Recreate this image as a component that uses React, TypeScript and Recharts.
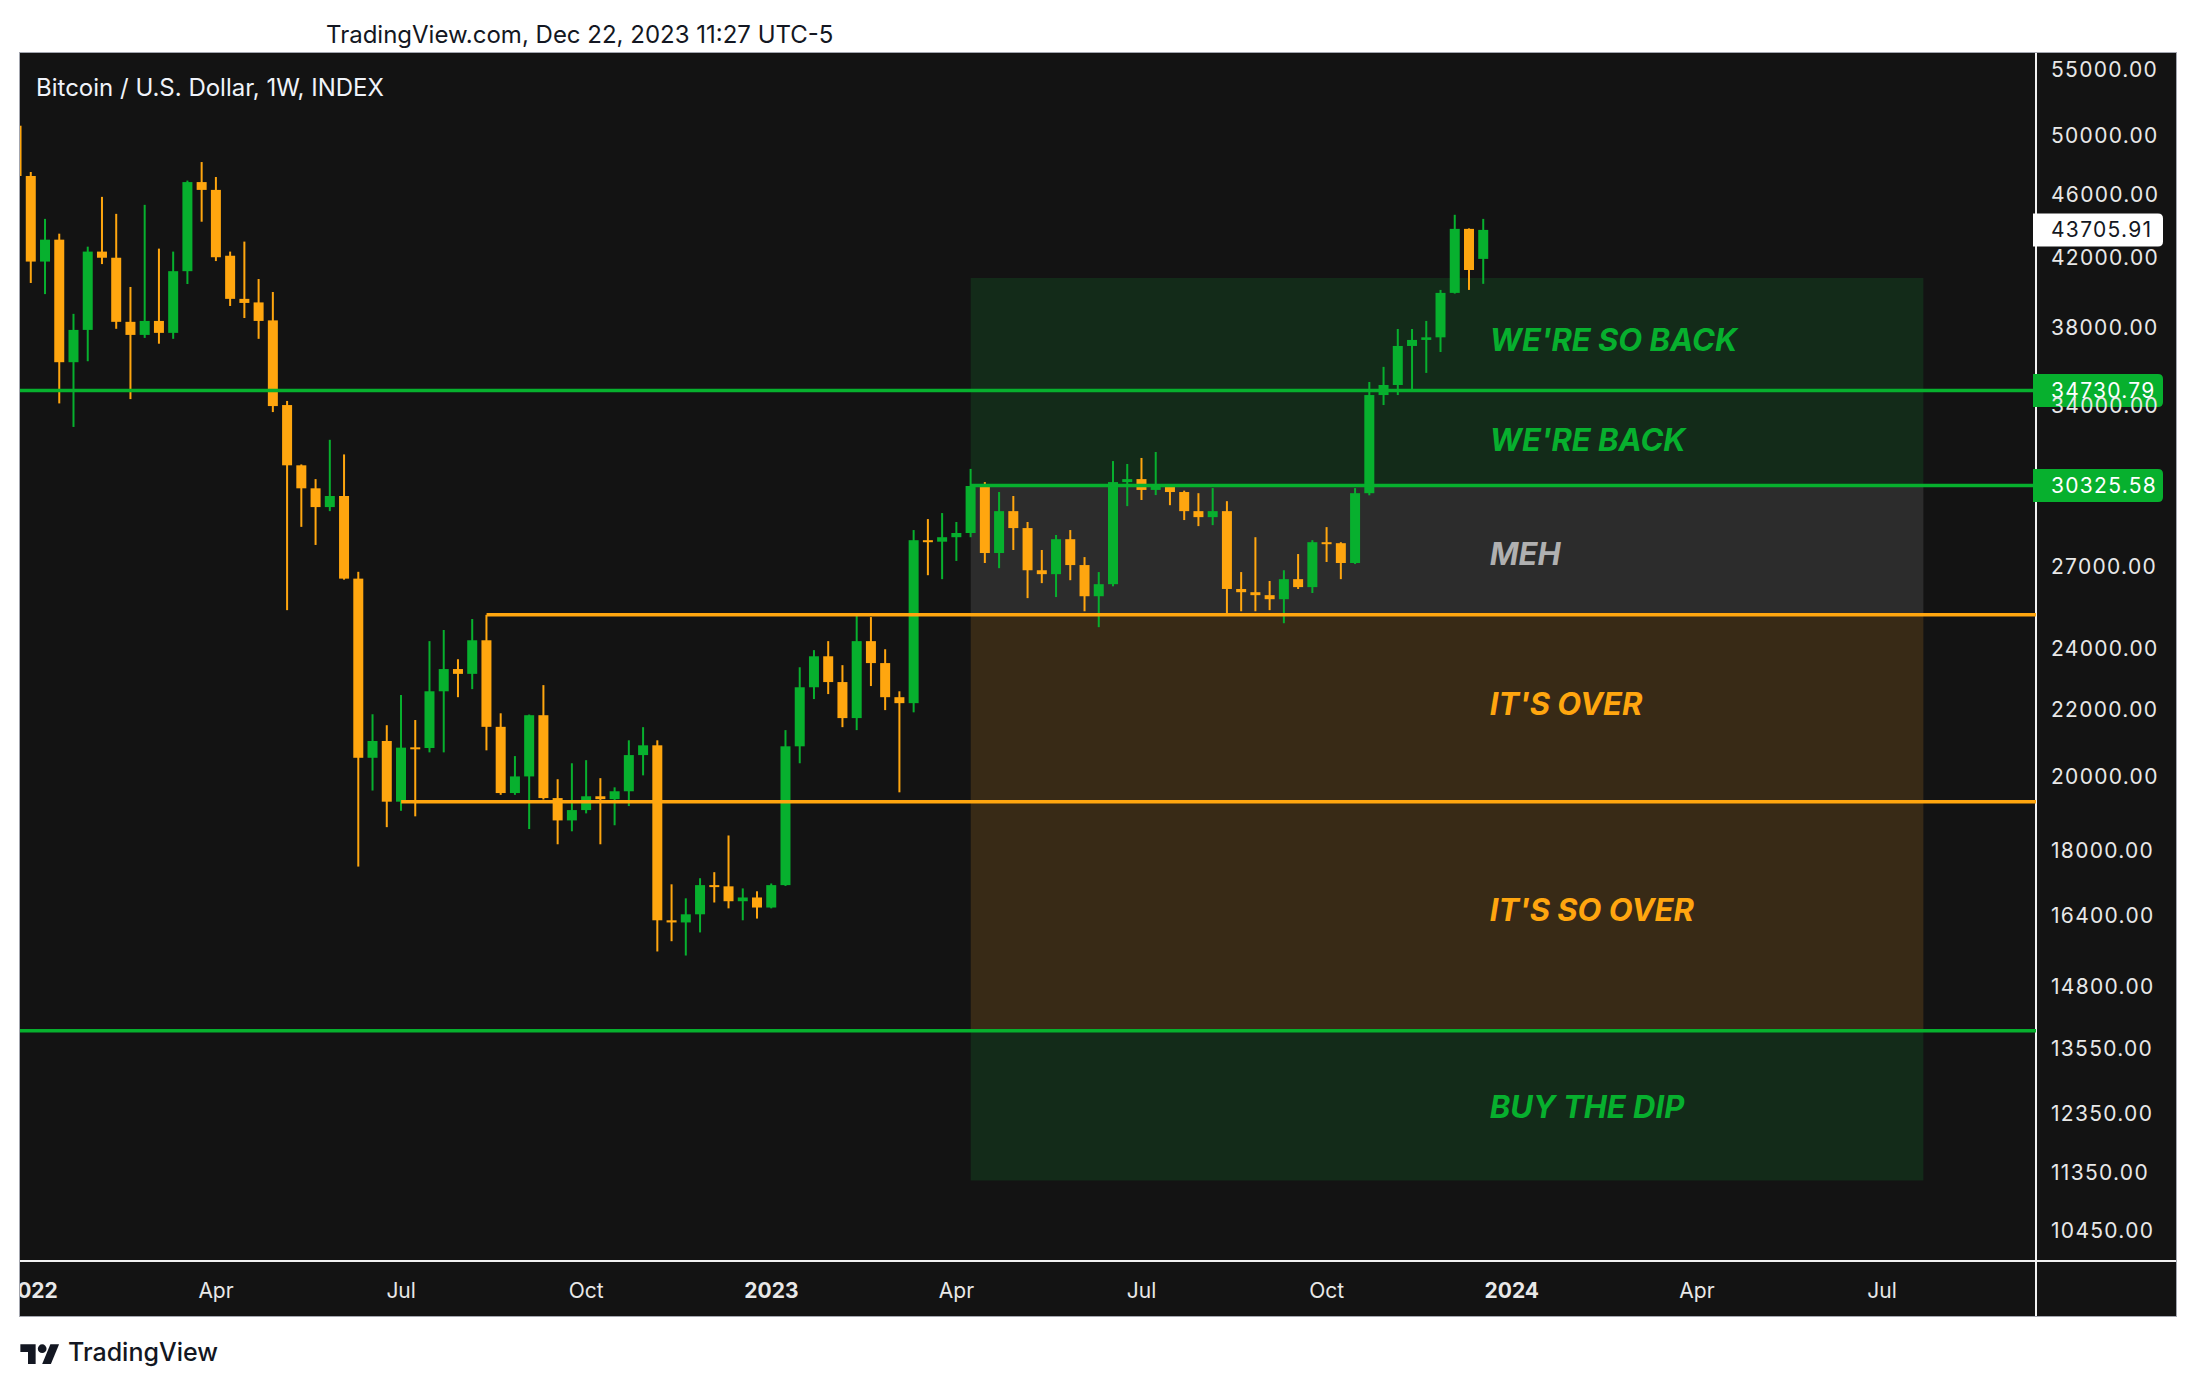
import React from 'react';
import { ComposedChart, Bar, XAxis, YAxis, ReferenceArea, ReferenceLine } from 'recharts';

// ---------------- data ----------------
const weekStarts = [
  '2021-12-27', '2022-01-03', '2022-01-10', '2022-01-17', '2022-01-24', '2022-01-31', '2022-02-07', '2022-02-14',
  '2022-02-21', '2022-02-28', '2022-03-07', '2022-03-14', '2022-03-21', '2022-03-28', '2022-04-04', '2022-04-11',
  '2022-04-18', '2022-04-25', '2022-05-02', '2022-05-09', '2022-05-16', '2022-05-23', '2022-05-30', '2022-06-06',
  '2022-06-13', '2022-06-20', '2022-06-27', '2022-07-04', '2022-07-11', '2022-07-18', '2022-07-25', '2022-08-01',
  '2022-08-08', '2022-08-15', '2022-08-22', '2022-08-29', '2022-09-05', '2022-09-12', '2022-09-19', '2022-09-26',
  '2022-10-03', '2022-10-10', '2022-10-17', '2022-10-24', '2022-10-31', '2022-11-07', '2022-11-14', '2022-11-21',
  '2022-11-28', '2022-12-05', '2022-12-12', '2022-12-19', '2022-12-26', '2023-01-02', '2023-01-09', '2023-01-16',
  '2023-01-23', '2023-01-30', '2023-02-06', '2023-02-13', '2023-02-20', '2023-02-27', '2023-03-06', '2023-03-13',
  '2023-03-20', '2023-03-27', '2023-04-03', '2023-04-10', '2023-04-17', '2023-04-24', '2023-05-01', '2023-05-08',
  '2023-05-15', '2023-05-22', '2023-05-29', '2023-06-05', '2023-06-12', '2023-06-19', '2023-06-26', '2023-07-03',
  '2023-07-10', '2023-07-17', '2023-07-24', '2023-07-31', '2023-08-07', '2023-08-14', '2023-08-21', '2023-08-28',
  '2023-09-04', '2023-09-11', '2023-09-18', '2023-09-25', '2023-10-02', '2023-10-09', '2023-10-16', '2023-10-23',
  '2023-10-30', '2023-11-06', '2023-11-13', '2023-11-20', '2023-11-27', '2023-12-04', '2023-12-11', '2023-12-18',
];

const openValues = [
  50730, 47210, 41770, 43100, 36170, 37880, 42370, 42000,
  38320, 37610, 38370, 37720, 41200, 46800, 46280, 42120,
  39600, 39400, 38400, 34020, 31210, 30200, 29400, 29870,
  26540, 20540, 21040, 19290, 20850, 20830, 22590, 23320,
  23160, 24300, 21470, 19530, 20000, 21830, 19390, 18780,
  19060, 19440, 19360, 19580, 20620, 20910, 16280, 16230,
  16420, 17120, 17090, 16730, 16820, 16580, 17120, 20880,
  22720, 23750, 22890, 21740, 24270, 23520, 22400, 22210,
  28040, 27980, 28160, 28330, 30300, 27530, 29230, 28530,
  26860, 26710, 28080, 27060, 25880, 26330, 30470, 30600,
  30130, 30290, 30040, 29230, 28980, 29230, 26150, 26030,
  25920, 25770, 26520, 26220, 27960, 27920, 27140, 29990,
  34510, 35010, 37020, 37340, 37480, 39940, 43770, 41930,
];

const highValues = [
  51900, 47480, 44400, 43470, 38760, 42670, 45820, 44720,
  40280, 45300, 42550, 42370, 46900, 48160, 47140, 42370,
  42980, 40740, 39990, 34220, 31250, 30600, 32370, 31700,
  26800, 21860, 21520, 22470, 21680, 24270, 24660, 23650,
  25050, 25200, 21890, 20590, 21850, 22790, 19920, 20380,
  20470, 19950, 19690, 21060, 21460, 21060, 17140, 16800,
  17290, 17440, 18380, 17040, 16970, 17160, 21370, 23380,
  23960, 24270, 23450, 25260, 25120, 23990, 22590, 28450,
  28900, 29150, 28780, 31050, 30470, 30040, 29870, 28780,
  27650, 28250, 28450, 27370, 26790, 31400, 31270, 31540,
  31810, 30380, 30100, 29990, 30210, 29650, 26790, 28160,
  26450, 26860, 27490, 28040, 28570, 27960, 30210, 35160,
  35930, 37930, 37930, 38370, 40110, 44660, 43800, 44400,
];

const lowValues = [
  45700, 40510, 39870, 34100, 32970, 36220, 41620, 37940,
  34310, 37450, 37140, 37400, 40450, 44220, 41800, 39200,
  38530, 37400, 33680, 25370, 28580, 27850, 29230, 26500,
  17580, 19600, 18600, 19040, 18890, 20700, 20700, 22400,
  22660, 20760, 19480, 19480, 18550, 19350, 18150, 18490,
  18970, 18150, 18650, 19170, 20030, 15570, 15800, 15480,
  16000, 16700, 16560, 16280, 16320, 16560, 17100, 20380,
  22340, 22500, 21460, 21370, 22760, 21990, 19550, 21920,
  26670, 26520, 27220, 28160, 27140, 26940, 27650, 25810,
  26370, 25850, 26480, 25330, 24760, 26250, 29440, 29700,
  29910, 29480, 28860, 28610, 28650, 25200, 25330, 25330,
  25370, 24900, 26150, 26000, 27180, 26520, 27100, 29900,
  34020, 34510, 34760, 35620, 36700, 39900, 40110, 40460,
];

const closeValues = [
  47210, 41770, 43100, 36170, 37880, 42370, 42000, 38320,
  37610, 38370, 37720, 41200, 46800, 46280, 42030, 39600,
  39370, 38370, 33970, 31210, 30200, 29400, 29870, 26540,
  20540, 21040, 19290, 20840, 20830, 22590, 23320, 23160,
  24300, 21470, 19530, 20000, 21830, 19390, 18780, 19060,
  19440, 19360, 19580, 20620, 20910, 16280, 16230, 16420,
  17120, 17090, 16730, 16820, 16580, 17120, 20880, 22720,
  23750, 22890, 21740, 24270, 23520, 22400, 22210, 28040,
  27980, 28160, 28330, 30300, 27530, 29230, 28530, 26860,
  26710, 28080, 27060, 25880, 26330, 30470, 30600, 30130,
  30290, 30040, 29230, 28980, 29230, 26150, 26030, 25920,
  25770, 26520, 26220, 27960, 27920, 27140, 29990, 34510,
  35010, 37020, 37340, 37480, 39940, 43770, 41270, 43705.91,
];

const timeTickDates = ['2022-01-03', '2022-04-04', '2022-07-04', '2022-10-03', '2023-01-02', '2023-04-03', '2023-07-03', '2023-10-02', '2024-01-01', '2024-04-01', '2024-07-01'];
const timeTickLabels = ['2022', 'Apr', 'Jul', 'Oct', '2023', 'Apr', 'Jul', 'Oct', '2024', 'Apr', 'Jul'];

const priceTicks = [55000, 50000, 46000, 42000, 38000, 34000, 27000, 24000, 22000, 20000, 18000, 16400, 14800, 13550, 12350, 11350, 10450];

// horizontal levels
const levelSoBack = 34730.79;
const levelBack = 30325.58;
const levelMeh = 25200;
const levelOver = 19290;
const levelDip = 13900;
const zoneTop = 40800;
const zoneBottom = 11220;
const lastPrice = 43705.91;

const levelMehStart = '2022-08-15';
const levelOverStart = '2022-07-04';
const zoneStart = '2023-04-10';
const zoneEndWeek = 132.9;

const zoneLabels = ["WE'RE SO BACK", "WE'RE BACK", 'MEH', "IT'S OVER", "IT'S SO OVER", 'BUY THE DIP'];

// ---------------- helpers ----------------
const GREEN = '#07b02e';
const ORANGE = '#ffa60f';
const AXIS_TEXT = '#e8e8e8';
const PLOT_BG = '#131313';
const ZONE_GREEN = '#132b19';
const ZONE_GRAY = '#2c2c2c';
const ZONE_BROWN = '#382a16';
const FONT = 'Inter, "Noto Sans", "DejaVu Sans", sans-serif';

const WEEK_MS = 7 * 24 * 3600 * 1000;
const toWeek = (d: string) => Math.round((Date.parse(d + 'T00:00:00Z') - Date.parse('2022-01-03T00:00:00Z')) / WEEK_MS);

const candles = weekStarts.map((d, i) => ({
  week: toWeek(d),
  open: openValues[i],
  high: highValues[i],
  low: lowValues[i],
  close: closeValues[i],
  range: [lowValues[i], highValues[i]],
}));

const timeTickWeeks = timeTickDates.map(toWeek);
const X_DOMAIN: [number, number] = [-0.765, 140.81];
const Y_DOMAIN: [number, number] = [10000, 56290];

const Candle = (props: any) => {
  const { x, y, width, height, payload } = props;
  if (x == null || y == null || !payload) return null;
  const { open, close, high, low } = payload;
  const lh = Math.log(high);
  const ll = Math.log(low);
  const toY = (v: number) => (lh === ll ? y : y + ((lh - Math.log(v)) / (lh - ll)) * height);
  const up = close >= open;
  const color = up ? GREEN : ORANGE;
  const cx = x + width / 2;
  const top = toY(Math.max(open, close));
  const bot = toY(Math.min(open, close));
  return (
    <g>
      <rect x={cx - 1} y={y} width={2} height={Math.max(height, 1)} fill={color} />
      <rect x={x} y={top} width={width} height={Math.max(bot - top, 2)} fill={color} />
    </g>
  );
};

const TimeTick = (props: any) => {
  const { x, y, payload } = props;
  const idx = timeTickWeeks.indexOf(payload.value);
  const label = idx >= 0 ? timeTickLabels[idx] : '';
  const isYear = /^\d{4}$/.test(label);
  return (
    <text x={x} y={y + 29} textAnchor="middle" dominantBaseline="central" fill={AXIS_TEXT} fontSize={21} fontWeight={isYear ? 700 : 400} fontFamily={FONT}>
      {label}
    </text>
  );
};

const PriceTick = (props: any) => {
  const { x, y, payload } = props;
  return (
    <text x={x + 15} y={y} dominantBaseline="central" fill={AXIS_TEXT} fontSize={21} fontFamily={FONT} letterSpacing={1.3}>
      {Number(payload.value).toFixed(2)}
    </text>
  );
};

const priceTag = (value: number, bg: string, fg: string) => (props: any) => {
  const vb = props.viewBox || {};
  const xr = (vb.x || 0) + (vb.width || 0);
  const yc = vb.y || 0;
  const w = 130;
  const h = 33;
  const r = 5;
  const x0 = xr - 3;
  const y0 = yc - h / 2;
  const d = `M${x0},${y0} H${x0 + w - r} Q${x0 + w},${y0} ${x0 + w},${y0 + r} V${y0 + h - r} Q${x0 + w},${y0 + h} ${x0 + w - r},${y0 + h} H${x0} Z`;
  return (
    <g>
      <path d={d} fill={bg} />
      <text x={xr + 15} y={yc} dominantBaseline="central" fill={fg} fontSize={21} fontFamily={FONT} letterSpacing={1.3}>
        {value.toFixed(2)}
      </text>
    </g>
  );
};

const zoneLabel = (text: string, color: string, dy: number) => (props: any) => {
  const vb = props.viewBox || {};
  return (
    <text
      x={(vb.x || 0) + 519}
      y={(vb.y || 0) + (vb.height || 0) / 2 + dy}
      dominantBaseline="central"
      fill={color}
      fontSize={31}
      fontWeight={700}
      fontStyle="italic"
      fontFamily={FONT}
    >
      {text}
    </text>
  );
};

const TvLogo = () => (
  <svg width={40} height={24} viewBox="0 0 36 22" style={{ display: 'block' }}>
    <path d="M14 22H7V11H0V4h14v18z" fill="#131722" />
    <circle cx={20} cy={8} r={4} fill="#131722" />
    <path d="M28 22h-8l7.5-18h8L28 22z" fill="#131722" />
  </svg>
);

export default function App() {
  const zs = toWeek(zoneStart);
  return (
    <div style={{ position: 'absolute', left: 0, top: 0, width: 2196, height: 1388, background: '#ffffff', overflow: 'hidden', fontFamily: FONT }}>
      <div style={{ position: 'absolute', left: 326, top: 21, fontSize: 24, lineHeight: '28px', color: '#131722', whiteSpace: 'nowrap' }}>
        TradingView.com, Dec 22, 2023 11:27 UTC-5
      </div>

      <div style={{ position: 'absolute', left: 19, top: 52, width: 2156, height: 1263, border: '1px solid #a3a6af', background: PLOT_BG, overflow: 'hidden' }}>
        {/* separators (below the svg) */}
        <div style={{ position: 'absolute', left: 2014.75, top: 0, width: 2.5, height: 1263, background: '#f2f2f2' }} />
        <div style={{ position: 'absolute', left: 0, top: 1206.75, width: 2156, height: 2.5, background: '#f2f2f2' }} />

        <ComposedChart width={2156} height={1263} data={candles} margin={{ top: 0, right: 0, bottom: 0, left: 0 }}>
          <XAxis
            dataKey="week"
            type="number"
            domain={X_DOMAIN}
            allowDataOverflow
            ticks={timeTickWeeks}
            interval={0}
            tick={<TimeTick />}
            tickLine={false}
            axisLine={false}
            tickSize={0}
            tickMargin={0}
            height={55}
          />
          <YAxis
            orientation="right"
            type="number"
            scale="log"
            domain={Y_DOMAIN}
            allowDataOverflow
            ticks={priceTicks}
            interval={0}
            tick={<PriceTick />}
            tickLine={false}
            axisLine={false}
            tickSize={0}
            tickMargin={0}
            width={140}
          />

          <ReferenceArea x1={zs} x2={zoneEndWeek} y1={levelSoBack} y2={zoneTop} fill={ZONE_GREEN} fillOpacity={1} stroke="none" label={zoneLabel(zoneLabels[0], GREEN, 5)} />
          <ReferenceArea x1={zs} x2={zoneEndWeek} y1={levelBack} y2={levelSoBack} fill={ZONE_GREEN} fillOpacity={1} stroke="none" label={zoneLabel(zoneLabels[1], GREEN, 1)} />
          <ReferenceArea x1={zs} x2={zoneEndWeek} y1={levelMeh} y2={levelBack} fill={ZONE_GRAY} fillOpacity={1} stroke="none" label={zoneLabel(zoneLabels[2], '#b0b0b0', 3)} />
          <ReferenceArea x1={zs} x2={zoneEndWeek} y1={levelOver} y2={levelMeh} fill={ZONE_BROWN} fillOpacity={1} stroke="none" label={zoneLabel(zoneLabels[3], ORANGE, -5)} />
          <ReferenceArea x1={zs} x2={zoneEndWeek} y1={levelDip} y2={levelOver} fill={ZONE_BROWN} fillOpacity={1} stroke="none" label={zoneLabel(zoneLabels[4], ORANGE, -7)} />
          <ReferenceArea x1={zs} x2={zoneEndWeek} y1={zoneBottom} y2={levelDip} fill={ZONE_GREEN} fillOpacity={1} stroke="none" label={zoneLabel(zoneLabels[5], GREEN, 1)} />

          <Bar dataKey="range" barSize={10} shape={<Candle />} isAnimationActive={false} />

          <ReferenceLine y={levelSoBack} stroke={GREEN} strokeWidth={3.5} label={priceTag(levelSoBack, GREEN, '#ffffff')} />
          <ReferenceLine
            segment={[{ x: zs, y: levelBack }, { x: X_DOMAIN[1], y: levelBack }]}
            stroke={GREEN}
            strokeWidth={3.5}
            label={priceTag(levelBack, GREEN, '#ffffff')}
          />
          <ReferenceLine segment={[{ x: toWeek(levelMehStart), y: levelMeh }, { x: X_DOMAIN[1], y: levelMeh }]} stroke={ORANGE} strokeWidth={3.5} />
          <ReferenceLine segment={[{ x: toWeek(levelOverStart), y: levelOver }, { x: X_DOMAIN[1], y: levelOver }]} stroke={ORANGE} strokeWidth={3.5} />
          <ReferenceLine y={levelDip} stroke={GREEN} strokeWidth={3.5} />
          <ReferenceLine y={lastPrice} stroke="none" strokeOpacity={0} label={priceTag(lastPrice, '#ffffff', '#131722')} />
        </ComposedChart>

        <div style={{ position: 'absolute', left: 16, top: 21, fontSize: 24, lineHeight: '28px', color: '#f0f3fa', whiteSpace: 'nowrap' }}>
          Bitcoin / U.S. Dollar, 1W, INDEX
        </div>
      </div>

      <div style={{ position: 'absolute', left: 20, top: 1339, display: 'flex', alignItems: 'center', gap: 8 }}>
        <TvLogo />
        <span style={{ fontSize: 25, color: '#131722', fontWeight: 500, lineHeight: '26px' }}>TradingView</span>
      </div>
    </div>
  );
}
